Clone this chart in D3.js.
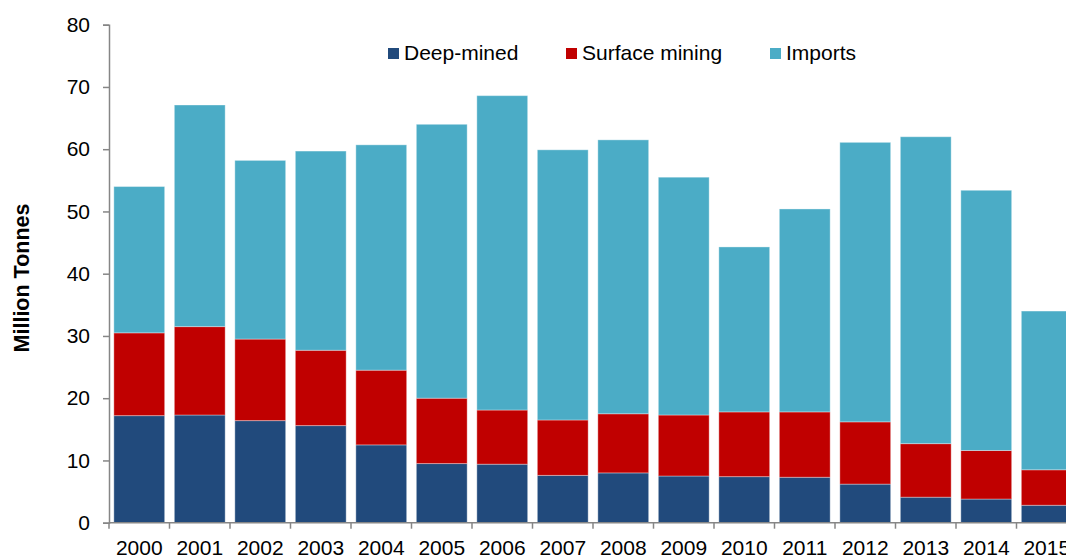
<!DOCTYPE html>
<html>
<head>
<meta charset="utf-8">
<script src="https://cdn.jsdelivr.net/npm/d3@7"></script>
<style>
  html, body { margin: 0; padding: 0; background: #fff; }
  svg { display: block; font-family: "Liberation Sans", Arial, sans-serif; }
</style>
</head>
<body>
<svg id="chart" width="1066" height="556"></svg>
<script>
const years = ["2000","2001","2002","2003","2004","2005","2006","2007","2008","2009","2010","2011","2012","2013","2014","2015"];
const deepMined = [17.2,17.3,16.4,15.6,12.5,9.5,9.4,7.6,8.0,7.5,7.4,7.3,6.2,4.1,3.8,2.8];
const surfaceMining = [13.3,14.2,13.1,12.1,12.0,10.5,8.7,8.9,9.5,9.8,10.4,10.5,10.0,8.6,7.8,5.7];
const imports = [23.5,35.6,28.7,32.0,36.2,44.0,50.5,43.4,44.0,38.2,26.5,32.6,44.9,49.3,41.8,25.5];
const seriesNames = ["Deep-mined","Surface mining","Imports"];
const seriesColors = ["#214A7C","#C00000","#4BACC6"];
const yTicks = [0,10,20,30,40,50,60,70,80];

const svg = d3.select("#chart");
const x0 = 109, x1 = 109 + 16 * 60.5;
const yBottom = 522.7, yTop = 24.7;

const x = d3.scaleBand().domain(years).range([x0, x1]).paddingInner(0.16).paddingOuter(0.08);
const y = d3.scaleLinear().domain([0, 80]).range([yBottom, yTop]);

const rows = years.map((yr, i) => ({
  year: yr,
  "Deep-mined": deepMined[i],
  "Surface mining": surfaceMining[i],
  "Imports": imports[i]
}));
const stacked = d3.stack().keys(seriesNames)(rows);

svg.append("g").selectAll("g").data(stacked).join("g")
  .attr("fill", (d, i) => seriesColors[i])
  .selectAll("rect").data(d => d).join("rect")
  .attr("x", d => x(d.data.year))
  .attr("width", x.bandwidth())
  .attr("y", d => y(d[1]))
  .attr("height", d => y(d[0]) - y(d[1]))
  .attr("stroke", "rgba(255,255,255,0.35)")
  .attr("stroke-width", 1);

// Y axis
const yAxis = svg.append("g").attr("transform", `translate(${x0},0)`)
  .call(d3.axisLeft(y).tickValues(yTicks).tickSize(6).tickPadding(13));
yAxis.select(".domain").attr("stroke", "#868686").attr("stroke-width", 1.5);
yAxis.selectAll(".tick line").attr("stroke", "#868686").attr("stroke-width", 1.5);
yAxis.selectAll(".tick text").attr("font-size", 21).attr("fill", "#000")
  .attr("font-family", "Liberation Sans, Arial, sans-serif");

// X axis
const xAxis = svg.append("g").attr("transform", `translate(0,${yBottom})`)
  .call(d3.axisBottom(x).tickSize(0).tickPadding(17));
xAxis.select(".domain").remove();
xAxis.append("line").attr("x1", x0).attr("x2", x1).attr("y1", 0).attr("y2", 0)
  .attr("stroke", "#868686").attr("stroke-width", 1.5);
xAxis.selectAll(".tick text").attr("font-size", 21).attr("fill", "#000")
  .attr("font-family", "Liberation Sans, Arial, sans-serif");
const boundaries = d3.range(years.length + 1).map(i => x0 + i * x.step());
xAxis.selectAll(".bnd").data(boundaries).join("line").attr("class", "bnd")
  .attr("x1", d => d).attr("x2", d => d).attr("y1", 0).attr("y2", 6)
  .attr("stroke", "#868686").attr("stroke-width", 1.5);

// Y axis title
svg.append("text")
  .attr("transform", `translate(29,278) rotate(-90)`)
  .attr("text-anchor", "middle")
  .attr("font-size", 21.5).attr("font-weight", "bold").attr("fill", "#000")
  .text("Million Tonnes");

// Legend
const legendX = [388, 566, 770];
const lg = svg.append("g").selectAll("g").data(seriesNames).join("g")
  .attr("transform", (d, i) => `translate(${legendX[i]},48)`);
lg.append("rect").attr("width", 11).attr("height", 11).attr("fill", (d, i) => seriesColors[i]);
lg.append("text").attr("x", 16).attr("y", 11.5).attr("font-size", 21).attr("fill", "#000").text(d => d);
</script>
</body>
</html>
